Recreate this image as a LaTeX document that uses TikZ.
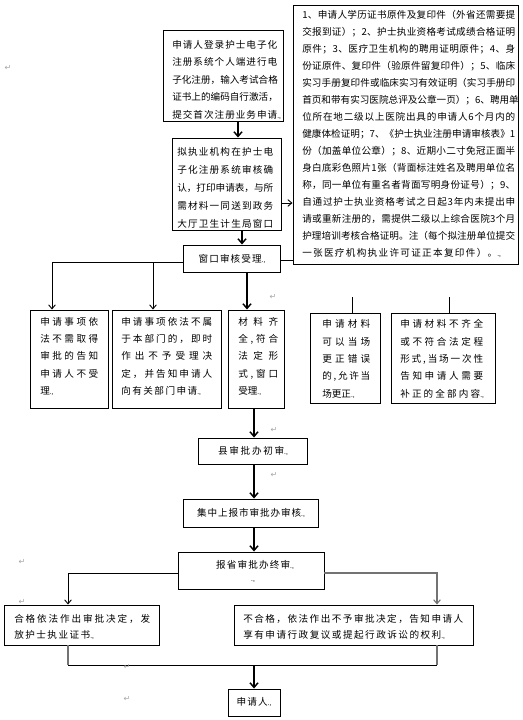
\documentclass[tikz,border=0pt]{standalone}
\usepackage{fontspec}
\setmainfont{Liberation Serif}
\newfontfamily\cjk{Noto Sans CJK SC}
\newfontfamily\djv{DejaVu Sans}
\usetikzlibrary{arrows.meta,fit}
\makeatletter
\newdimen\pxu \pxu=0.75pt
\newcommand\jl[2]{\hbox to #1\pxu{\@tfor\jl@x:=#2\do{\jl@x\hfil}\unskip}}
\makeatother
\newcommand\pmk{{\rmfamily\fontsize{5.5pt}{6pt}\selectfont .,}}
\begin{document}
\begin{tikzpicture}[x=0.75pt,y=-0.75pt,
  font=\cjk\fontsize{7.2pt}{13pt}\selectfont,
  box/.style={draw, line width=0.7pt, inner sep=0pt, fit={#1}},
  txt/.style={inner sep=0pt, align=left, anchor=west},
  ctxt/.style={inner sep=0pt, align=center},
  ln/.style={line width=0.7pt},
  lng/.style={line width=0.8pt, draw=black!55},
  arr/.style={line width=0.7pt, -{Straight Barb[length=3pt,width=5pt]}},
  arrT/.style={line width=1.1pt, -{Straight Barb[length=3.5pt,width=6pt]}},
  arrg/.style={line width=0.8pt, draw=black!55, -{Straight Barb[length=3pt,width=5pt]}},
  mk/.style={inner sep=0pt, font=\djv\fontsize{6pt}{6pt}\selectfont, text=black!35}]
\fill[white] (0,0) rectangle (523,720);
\useasboundingbox (0,0) rectangle (523,720);

% helper coordinates
\coordinate (c52) at (52,0);
\coordinate (c68) at (68,0);
\coordinate (c153) at (153,0);
\coordinate (c238) at (238,0);
\coordinate (c242) at (242,0);
\coordinate (c247) at (247,0);
\coordinate (c254) at (254,0);
\coordinate (c352) at (352,0);
\coordinate (c437) at (437,0);
\coordinate (c449) at (449,0);
\coordinate (r203) at (0,203);
\coordinate (r260) at (0,260);
\coordinate (r262) at (0,262);
\coordinate (r297) at (0,297);
\coordinate (r573) at (0,573);
\coordinate (r665) at (0,665);

% boxes
\node[box={(163,30) (283,121)}] (b1) {};
\node[box={(172,138) (281,230)}] (b2) {};
\node[box={(293,5) (518,264)}] (bb) {};
\node[box={(183,245) (280,272)}] (b3) {};
\node[box={(30,310) (108,408)}] (bA) {};
\node[box={(112,310) (221,408)}] (bB) {};
\node[box={(228,310) (284,408)}] (bC) {};
\node[box={(310,313) (380,403)}] (bD) {};
\node[box={(391,313) (495,403)}] (bE) {};
\node[box={(198,438) (307,464)}] (b4) {};
\node[box={(183,499) (318,527)}] (b5) {};
\node[box={(178,552) (324,589)}] (b6) {};
\node[box={(4,605) (159,645)}] (bF) {};
\node[box={(234,605) (473,645)}] (bG) {};
\node[box={(228,689) (280,716)}] (b7) {};

% texts
\node[txt, font=\cjk\fontsize{7.2pt}{13.1pt}\selectfont] (t1) at (172,80)
  {\jl{105}{申请人登录护士电子化}\\\jl{105}{注册系统个人端进行电}\\\jl{105}{子化注册，输入考试合格}\\\jl{105}{证书上的编码自行激活，}\\\jl{105}{提交首次注册业务申请}\pmk};
\node[txt, font=\cjk\fontsize{7.2pt}{13.5pt}\selectfont] (t2) at (177,188)
  {\jl{96}{拟执业机构在护士电}\\\jl{96}{子化注册系统审核确}\\\jl{96}{认，打印申请表，与所}\\\jl{96}{需材料一同送到政务}\\\jl{96}{大厅卫生计生局窗口}};
\node[txt, font=\cjk\fontsize{7.2pt}{12.75pt}\selectfont] (tbb) at (302,133.5)
  {\jl{213}{1、申请人学历证书原件及复印件（外省还需要提}\\
   \jl{213}{交报到证）；2、护士执业资格考试成绩合格证明}\\
   \jl{213}{原件； 3、医疗卫生机构的聘用证明原件； 4、身}\\
   \jl{213}{份证原件、复印件（验原件留复印件）； 5、临床}\\
   \jl{213}{实习手册复印件或临床实习有效证明（实习手册印}\\
   \jl{213}{首页和带有实习医院总评及公章一页）；6、聘用单}\\
   \jl{213}{位所在地二级以上医院出具的申请人6个月内的}\\
   \jl{213}{健康体检证明；7、《护士执业注册申请审核表》1}\\
   \jl{213}{份（加盖单位公章）； 8、近期小二寸免冠正面半}\\
   \jl{213}{身白底彩色照片1张（背面标注姓名及聘用单位名}\\
   \jl{213}{称，同一单位有重名者背面写明身份证号）；9、}\\
   \jl{213}{自通过护士执业资格考试之日起3年内未提出申}\\
   \jl{213}{请或重新注册的，需提供二级以上综合医院3个月}\\
   \jl{213}{护理培训考核合格证明。注（每个拟注册单位提交}\\
   \jl{195}{一张医疗机构执业许可证正本复印件）。}\pmk};
\node[ctxt] (t3) at (232,258.5) {\jl{63}{窗口审核受理}\pmk};
\node[txt, font=\cjk\fontsize{7.2pt}{13pt}\selectfont] (tA) at (40,356.5)
  {\jl{58}{申请事项依}\\\jl{58}{法不需取得}\\\jl{58}{审批的告知}\\\jl{58}{申请人不受}\\理\pmk};
\node[txt, font=\cjk\fontsize{7.2pt}{13pt}\selectfont] (tB) at (121,356.5)
  {\jl{91}{申请事项依法不属}\\\jl{91}{于本部门的，即时}\\\jl{91}{作出不予受理决}\\\jl{91}{定，并告知申请人}\\\jl{76}{向有关部门申请}\pmk};
\node[txt, font=\cjk\fontsize{7.2pt}{13pt}\selectfont] (tC) at (238,356.5)
  {\jl{40}{材料齐}\\\jl{40}{全,符合}\\\jl{40}{法定形}\\\jl{40}{式,窗口}\\受理\pmk};
\node[txt, font=\cjk\fontsize{7.2pt}{13pt}\selectfont] (tD) at (322,359)
  {\jl{48}{申请材料}\\\jl{48}{可以当场}\\\jl{48}{更正错误}\\\jl{48}{的,允许当}\\场更正\pmk};
\node[txt, font=\cjk\fontsize{7.2pt}{13pt}\selectfont] (tE) at (400,359)
  {\jl{83}{申请材料不齐全}\\\jl{83}{或不符合法定程}\\\jl{83}{形式,当场一次性}\\\jl{83}{告知申请人需要}\\\jl{80}{补正的全部内容}\pmk};
\node[ctxt] (t4) at (253,451) {\jl{66}{县审批办初审}\pmk};
\node[ctxt] (t5) at (251,513) {\jl{104}{集中上报市审批办审核}\pmk};
\node[ctxt] (t6) at (255,565) {\jl{74}{报省审批办终审}\pmk};
\node[ctxt] (t6b) at (253,582) {\pmk};
\node[txt, font=\cjk\fontsize{7.2pt}{12pt}\selectfont] (tF) at (14,627)
  {\jl{136}{合格依法作出审批决定，发}\\\jl{76}{放护士执业证书}\pmk};
\node[txt, font=\cjk\fontsize{7.2pt}{12pt}\selectfont] (tG) at (243,627)
  {\jl{220}{不合格，依法作出不予审批决定，告知申请人}\\\jl{198}{享有申请行政复议或提起行政诉讼的权利}\pmk};
\node[ctxt] (t7) at (254,702.5) {\jl{31}{申请人}\pmk};

% connectors
\draw[arrT] (b1.south -| c238) -- (b2.north -| c238);
\draw[arrT] (b2.south -| c242) -- (b3.north -| c242);
\draw[arr] (b2.east |- r203) -- (bb.west |- r203);
\draw[ln] (b3.east |- r260) -- (bb.west |- r260);
\draw[arr] (b3.west |- r262) -| (bA.north -| c52);
\draw[arr] (c153 |- r262) -- (bB.north -| c153);
\draw[arrT] (b3.south -| c247) -- (bC.north -| c247);
\draw[ln] (c352 |- r297) -- (bD.north -| c352);
\draw[ln] (c449 |- r297) -- (bE.north -| c449);
\draw[arrT] (bC.south -| c254) -- (b4.north -| c254);
\draw[arrT] (b4.south -| c254) -- (b5.north -| c254);
\draw[arrT] (b5.south -| c254) -- (b6.north -| c254);
\draw[arr] (b6.west |- r573) -| (bF.north -| c68);
\draw[arrg] (b6.east |- r573) -| (bG.north -| c437);
\draw[lng] (bF.south -| c68) -- (c68 |- r665);
\draw[lng] (bG.south -| c437) -- (c437 |- r665);
\draw[ln] (c68 |- r665) -- (c437 |- r665);
\draw[arrT] (c254 |- r665) -- (b7.north -| c254);

% paragraph marks
\node[mk] (m1) at (8,68) {↵};
\node[mk] (m2) at (273,297) {↵};
\node[mk] (m3) at (274,430) {↵};
\node[mk] (m4) at (274,475) {↵};
\node[mk] (m5) at (22,562) {↵};
\node[mk] (m6) at (22,602) {↵};
\node[mk] (m7) at (127,667) {↵};
\node[mk] (m8) at (127,699) {↵};
\end{tikzpicture}
\end{document}
